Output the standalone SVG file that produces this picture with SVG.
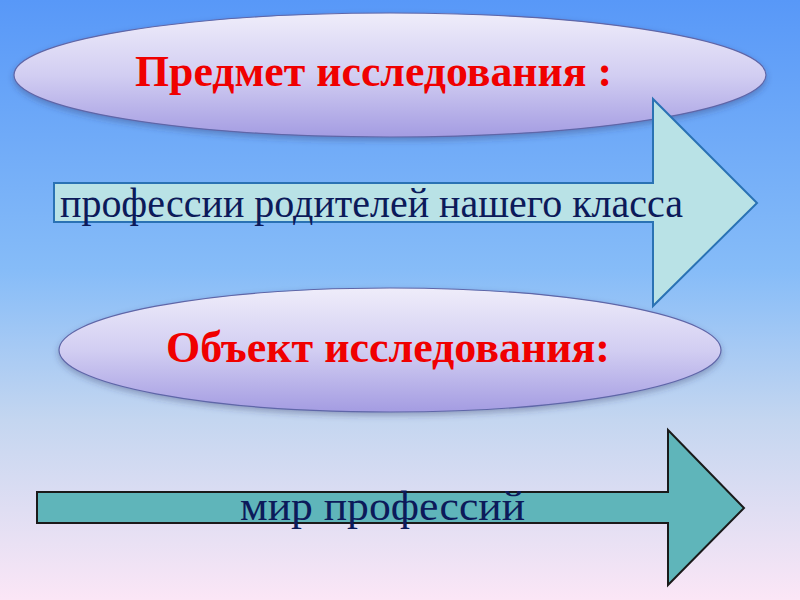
<svg xmlns="http://www.w3.org/2000/svg" width="800" height="600" viewBox="0 0 800 600">
<defs>
<linearGradient id="bg" x1="0" y1="0" x2="0" y2="1">
<stop offset="0" stop-color="#5898f8"/>
<stop offset="0.45" stop-color="#86bcf8"/>
<stop offset="0.7" stop-color="#c4d6f0"/>
<stop offset="1" stop-color="#fbe6f6"/>
</linearGradient>
<linearGradient id="ell" x1="0" y1="0" x2="0" y2="1">
<stop offset="0" stop-color="#efedfa"/>
<stop offset="0.5" stop-color="#d2cef2"/>
<stop offset="1" stop-color="#a49ce2"/>
</linearGradient>
<filter id="sh" x="-10%" y="-20%" width="120%" height="150%">
<feDropShadow dx="0" dy="3" stdDeviation="3" flood-color="#303060" flood-opacity="0.35"/>
</filter>
<style>
.ell{fill:url(#ell);stroke:#5f66a8;stroke-width:1.2;filter:url(#sh)}
.title{font-family:"Liberation Serif","Times New Roman",serif;font-weight:bold;font-size:44px;fill:#f00000}
.body{font-family:"Liberation Serif","Times New Roman",serif;font-size:42px;fill:#0c1a5a}
</style>
</defs>
<rect width="800" height="600" fill="url(#bg)"/>
<g id="subject">
<ellipse class="ell" cx="390" cy="75" rx="376" ry="62"/>
<text class="title" x="135" y="86" textLength="477" lengthAdjust="spacingAndGlyphs">Предмет исследования :</text>
</g>
<g id="arrow1">
<polygon points="54,183 653,183 653,99 757,203 653,306 653,222 54,222" fill="#b9e2e6" stroke="#2a72b4" stroke-width="2"/>
<text class="body" x="60" y="217" textLength="623" lengthAdjust="spacingAndGlyphs">профессии родителей нашего класса</text>
</g>
<g id="object">
<ellipse class="ell" cx="390" cy="350" rx="331" ry="62"/>
<text class="title" x="166" y="362" textLength="444" lengthAdjust="spacingAndGlyphs">Объект исследования:</text>
</g>
<g id="arrow2">
<polygon points="37,492 668,492 668,430 744,508 668,585 668,523 37,523" fill="#5fb5ba" stroke="#1a1a1a" stroke-width="2"/>
<text class="body" x="240" y="520" textLength="285" lengthAdjust="spacingAndGlyphs">мир профессий</text>
</g>
<g id="connectors"/>
</svg>
